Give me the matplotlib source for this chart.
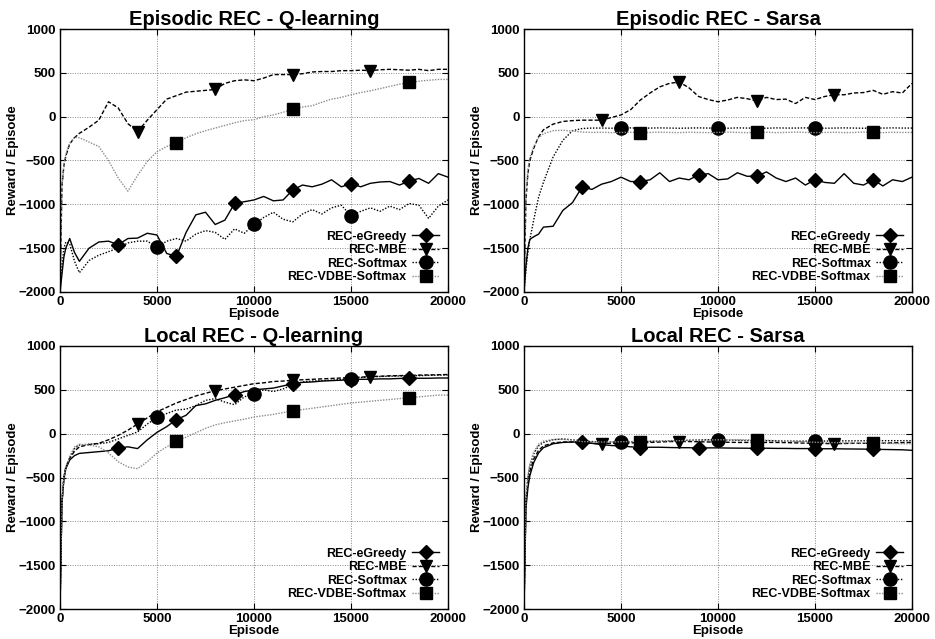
import matplotlib
matplotlib.use("Agg")
import matplotlib.pyplot as plt

plt.rcParams['font.family'] = ['Liberation Sans', 'DejaVu Sans']
plt.rcParams['font.weight'] = 'bold'

# episodes (shared x grid)
episodes = [0, 100, 200, 300, 500, 750, 1000, 1500, 2000, 2500, 3000, 3500, 4000, 4500,
            5000, 5500, 6000, 6500, 7000, 7500, 8000, 8500, 9000, 9500, 10000, 10500,
            11000, 11500, 12000, 12500, 13000, 13500, 14000, 14500, 15000, 15500, 16000,
            16500, 17000, 17500, 18000, 18500, 19000, 19500, 20000]

names = ["REC-eGreedy", "REC-MBE", "REC-Softmax", "REC-VDBE-Softmax"]
titles = ["Episodic REC - Q-learning", "Episodic REC - Sarsa",
          "Local REC - Q-learning", "Local REC - Sarsa"]

# Episodic REC - Q-learning
epi_q_egreedy = [-2000, -1800, -1600, -1500, -1390, -1550, -1650, -1500, -1430, -1420, -1460, -1390, -1385, -1330,
                 -1350, -1560, -1595, -1320, -1120, -1090, -1230, -1180, -990, -970, -950, -910,
                 -960, -950, -835, -780, -800, -770, -720, -800, -765, -800, -760,
                 -745, -740, -780, -735, -705, -760, -650, -690]
epi_q_mbe = [-2000, -800, -560, -450, -310, -240, -190, -120, -40, 170, 100, -80, -170, -40,
             80, 200, 240, 280, 290, 300, 310, 380, 410, 420, 410, 440,
             480, 480, 480, 490, 510, 515, 515, 525, 525, 530, 525,
             535, 540, 535, 530, 540, 525, 540, 540]
epi_q_softmax = [-2000, -1700, -1500, -1430, -1450, -1650, -1780, -1640, -1580, -1540, -1500, -1440, -1420, -1420,
                 -1490, -1420, -1390, -1420, -1340, -1300, -1320, -1400, -1280, -1330, -1230, -1150,
                 -1090, -1170, -1200, -1110, -1060, -1110, -1040, -1010, -1130, -1080, -1040,
                 -1080, -1020, -1060, -990, -1010, -1160, -1020, -950]
epi_q_vdbe = [-2000, -800, -550, -430, -300, -235, -240, -290, -340, -500, -700, -850, -670, -510,
              -400, -340, -300, -240, -195, -160, -130, -100, -70, -45, -35, 0,
              20, 50, 85, 110, 125, 165, 200, 220, 250, 275, 295,
              320, 345, 370, 390, 405, 415, 425, 425]

# Episodic REC - Sarsa
epi_s_egreedy = [-2000, -1700, -1500, -1400, -1370, -1340, -1260, -1250, -1070, -980, -800, -830, -770, -740,
                 -690, -740, -740, -720, -640, -740, -700, -720, -665, -650, -720, -710,
                 -640, -680, -680, -630, -700, -740, -700, -780, -720, -750, -760,
                 -650, -760, -780, -720, -790, -720, -740, -690]
epi_s_mbe = [-2000, -950, -650, -500, -360, -230, -150, -85, -55, -45, -40, -40, -40, -10,
             20, 80, 190, 270, 340, 380, 395, 330, 230, 195, 170, 190,
             220, 205, 180, 220, 195, 200, 150, 220, 195, 230, 250,
             250, 270, 275, 300, 255, 285, 270, 380]
epi_s_softmax = [-2000, -1750, -1550, -1400, -1180, -920, -750, -460, -270, -160, -135, -130, -130, -132,
                 -130, -128, -132, -130, -128, -130, -132, -130, -128, -130, -130, -132,
                 -128, -130, -130, -132, -128, -130, -130, -128, -130, -132, -130,
                 -128, -130, -132, -130, -130, -128, -130, -130]
epi_s_vdbe = [-2000, -900, -600, -470, -340, -240, -195, -160, -155, -165, -175, -180, -178, -182,
              -180, -178, -182, -180, -176, -180, -182, -178, -180, -182, -180, -176,
              -180, -182, -180, -178, -182, -180, -176, -180, -182, -180, -178,
              -182, -180, -176, -180, -182, -178, -180, -180]

# Local REC - Q-learning
loc_q_egreedy = [-2000, -800, -520, -400, -300, -250, -225, -215, -205, -195, -165, -150, -170, -70,
                 15, 80, 160, 210, 320, 340, 380, 410, 445, 480, 500, 510,
                 520, 545, 570, 585, 590, 600, 605, 610, 615, 620, 620,
                 625, 625, 630, 630, 632, 632, 635, 635]
loc_q_mbe = [-2000, -780, -500, -380, -280, -200, -150, -125, -110, -70, -20, 40, 110, 180,
             250, 300, 350, 390, 430, 460, 490, 510, 530, 550, 570, 580,
             595, 600, 610, 615, 620, 625, 630, 635, 640, 645, 650,
             655, 660, 662, 665, 668, 670, 672, 675]
loc_q_softmax = [-2000, -780, -500, -380, -270, -170, -130, -120, -115, -100, -60, -20, 20, 110,
                 185, 230, 270, 280, 320, 380, 400, 360, 330, 420, 455, 500,
                 480, 510, 560, 590, 600, 605, 610, 620, 625, 640, 650,
                 652, 655, 658, 660, 662, 665, 668, 670]
loc_q_vdbe = [-2000, -780, -500, -380, -260, -150, -120, -130, -150, -220, -320, -380, -400, -320,
              -220, -150, -85, -40, 10, 60, 100, 125, 145, 165, 190, 205,
              220, 240, 260, 275, 290, 305, 320, 335, 350, 360, 370,
              380, 390, 400, 410, 420, 430, 440, 440]

# Local REC - Sarsa
loc_s_egreedy = [-2000, -850, -620, -480, -330, -220, -160, -115, -100, -95, -95, -110, -125, -135,
                 -140, -150, -160, -155, -155, -158, -160, -160, -165, -162, -162, -164,
                 -165, -166, -168, -166, -168, -168, -170, -170, -170, -172, -172,
                 -174, -175, -176, -180, -180, -182, -184, -190]
loc_s_mbe = [-2000, -800, -560, -430, -290, -190, -140, -105, -95, -95, -100, -110, -115, -110,
             -105, -105, -105, -100, -95, -90, -90, -90, -92, -95, -95, -98,
             -100, -100, -100, -100, -100, -102, -105, -108, -110, -112, -115,
             -112, -110, -110, -110, -108, -105, -102, -100]
loc_s_softmax = [-2000, -750, -500, -370, -230, -140, -100, -70, -60, -70, -85, -90, -95, -95,
                 -95, -92, -90, -88, -85, -80, -78, -75, -72, -70, -70, -72,
                 -75, -78, -80, -80, -82, -84, -85, -85, -85, -84, -83,
                 -82, -82, -81, -80, -80, -80, -80, -80]
loc_s_vdbe = [-2000, -720, -480, -350, -210, -120, -85, -65, -65, -75, -90, -92, -95, -95,
              -92, -90, -90, -88, -85, -82, -80, -78, -75, -72, -70, -70,
              -70, -70, -70, -75, -80, -85, -90, -95, -98, -100, -102,
              -104, -106, -108, -110, -110, -112, -115, -115]

panels = [
    [epi_q_egreedy, epi_q_mbe, epi_q_softmax, epi_q_vdbe],
    [epi_s_egreedy, epi_s_mbe, epi_s_softmax, epi_s_vdbe],
    [loc_q_egreedy, loc_q_mbe, loc_q_softmax, loc_q_vdbe],
    [loc_s_egreedy, loc_s_mbe, loc_s_softmax, loc_s_vdbe],
]

# marker positions (episodes) for each series
mark_at = [
    [3000, 6000, 9000, 12000, 15000, 18000],
    [4000, 8000, 12000, 16000],
    [5000, 10000, 15000],
    [6000, 12000, 18000],
]
styles = [
    dict(color="black", linestyle="-", marker="D", markersize=7),
    dict(color="black", linestyle=(0, (3, 1.5)), marker="v", markersize=8.5),
    dict(color="black", linestyle=(0, (1, 1.2)), marker="o", markersize=9.5),
    dict(color="#8c8c8c", linestyle=(0, (1, 1)), marker="s", markersize=9),
]

fig = plt.figure(figsize=(9.35, 6.39), dpi=100)
W, H = 935.0, 639.0
boxes = [(60, 29), (524, 29), (60, 346), (524, 346)]  # left, top in px

for k in range(4):
    left, top = boxes[k]
    ax = fig.add_axes([left / W, 1 - (top + 263) / H, 388 / W, 263 / H])
    for j in range(4):
        idx = [episodes.index(e) for e in mark_at[j]]
        ax.plot(episodes, panels[k][j], label=names[j], linewidth=1.0,
                markevery=idx, markerfacecolor="black", markeredgecolor="black",
                **styles[j])
    ax.set_xlim(0, 20000)
    ax.set_ylim(-2000, 1000)
    ax.set_xticks([0, 5000, 10000, 15000, 20000])
    ax.set_yticks([-2000, -1500, -1000, -500, 0, 500, 1000])
    ax.grid(True, color="#888888", linestyle=(0, (1, 1.5)), linewidth=0.7)
    ax.tick_params(direction="in", top=True, right=True, length=4, width=0.8,
                   labelsize=9.5, pad=3)
    for sp in ax.spines.values():
        sp.set_linewidth(1.0)
    ax.set_title(titles[k], fontsize=14.5, fontweight="bold", pad=3)
    ax.set_xlabel("Episode", fontsize=9.5, fontweight="bold", labelpad=0)
    ax.set_ylabel("Reward / Episode", fontsize=9.5, fontweight="bold", labelpad=0)
    leg = ax.legend(loc="lower right", frameon=False, markerfirst=False, fontsize=9,
                    handlelength=2.2, handletextpad=0.4, labelspacing=0.12,
                    borderaxespad=0.3, numpoints=1)
    for t in leg.get_texts():
        t.set_fontweight("bold")

fig.savefig("out.png", dpi=100)
